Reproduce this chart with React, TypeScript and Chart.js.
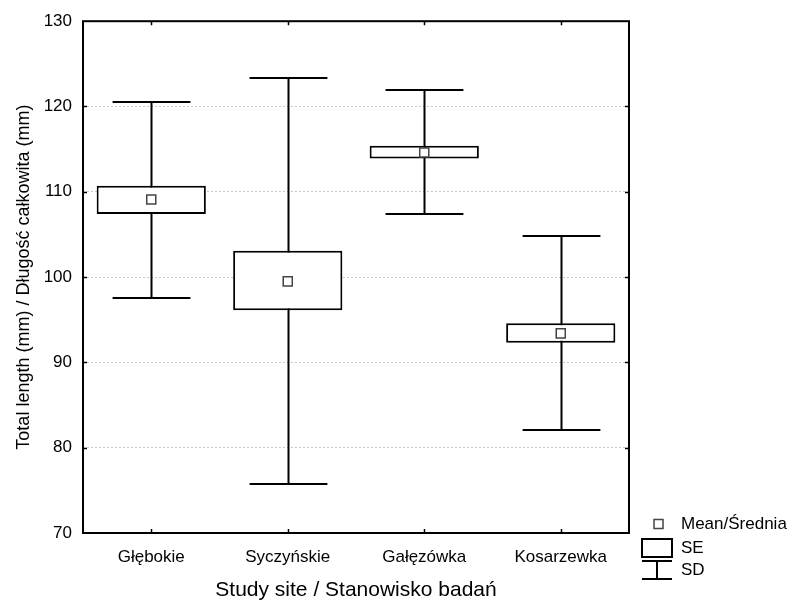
import React, { useEffect, useRef } from "react";
import { Chart, registerables } from "chart.js";

Chart.register(...registerables);

const sites = ["Głębokie", "Syczyńskie", "Gałęzówka", "Kosarzewka"];
const means = [109.1, 99.5, 114.6, 93.4];
const seLow = [107.4, 96.1, 113.9, 92.3];
const seHigh = [110.7, 103.1, 115.4, 94.6];
const sdLow = [97.5, 75.8, 107.4, 82.1];
const sdHigh = [120.5, 123.3, 121.9, 104.8];
const yMin = 70;
const yMax = 130;
const yStep = 10;
const legendLabels = ["Mean/Średnia", "SE", "SD"];
const xTitle = "Study site / Stanowisko badań";
const yTitle = "Total length (mm) / Długość całkowita (mm)";

const FONT = "'Liberation Sans', Arial, Helvetica, sans-serif";

const boxPlotPlugin = {
  id: "boxPlotExtras",
  beforeDatasetsDraw(chart: any) {
    const { ctx, scales } = chart;
    const x = scales.x;
    const y = scales.y;
    const step = x.getPixelForValue(1) - x.getPixelForValue(0);
    const half = step * 0.285;
    ctx.save();
    ctx.strokeStyle = "#000";
    ctx.lineWidth = 2;
    sites.forEach((_, i) => {
      const cx = Math.round(x.getPixelForValue(i)) + 0.5;
      const t = Math.round(y.getPixelForValue(sdHigh[i]));
      const b = Math.round(y.getPixelForValue(sdLow[i]));
      ctx.beginPath();
      ctx.moveTo(cx, t);
      ctx.lineTo(cx, b);
      ctx.moveTo(cx - half, t);
      ctx.lineTo(cx + half, t);
      ctx.moveTo(cx - half, b);
      ctx.lineTo(cx + half, b);
      ctx.stroke();
    });
    ctx.restore();
  },
  afterDraw(chart: any) {
    const { ctx, chartArea: ca, scales } = chart;
    const x = scales.x;
    const y = scales.y;
    ctx.save();
    ctx.strokeStyle = "#000";
    ctx.lineWidth = 2;
    ctx.strokeRect(ca.left, ca.top, ca.right - ca.left, ca.bottom - ca.top);
    // inward ticks
    ctx.lineWidth = 1.5;
    ctx.beginPath();
    for (let v = yMin + yStep; v < yMax; v += yStep) {
      const py = Math.round(y.getPixelForValue(v)) + 0.5;
      ctx.moveTo(ca.left, py);
      ctx.lineTo(ca.left + 4, py);
      ctx.moveTo(ca.right, py);
      ctx.lineTo(ca.right - 4, py);
    }
    sites.forEach((_, i) => {
      const px = Math.round(x.getPixelForValue(i)) + 0.5;
      ctx.moveTo(px, ca.top);
      ctx.lineTo(px, ca.top + 4);
      ctx.moveTo(px, ca.bottom);
      ctx.lineTo(px, ca.bottom - 4);
    });
    ctx.stroke();

    // legend
    const lx = ca.right + 13;
    const tx = ca.right + 52;
    ctx.font = `17px ${FONT}`;
    ctx.textBaseline = "middle";
    ctx.textAlign = "left";
    // mean marker
    ctx.fillStyle = "#fff";
    ctx.strokeStyle = "#444";
    ctx.lineWidth = 1.5;
    ctx.fillRect(lx + 12, ca.bottom - 13.5, 9, 9);
    ctx.strokeRect(lx + 12, ca.bottom - 13.5, 9, 9);
    ctx.fillStyle = "#000";
    ctx.fillText(legendLabels[0], tx, ca.bottom - 9);
    // SE box
    ctx.strokeStyle = "#000";
    ctx.lineWidth = 2;
    ctx.strokeRect(lx, ca.bottom + 6, 30, 18);
    ctx.fillText(legendLabels[1], tx, ca.bottom + 15);
    // SD whisker
    ctx.beginPath();
    ctx.moveTo(lx, ca.bottom + 28);
    ctx.lineTo(lx + 30, ca.bottom + 28);
    ctx.moveTo(lx + 15, ca.bottom + 28);
    ctx.lineTo(lx + 15, ca.bottom + 46);
    ctx.moveTo(lx, ca.bottom + 46);
    ctx.lineTo(lx + 30, ca.bottom + 46);
    ctx.stroke();
    ctx.fillText(legendLabels[2], tx, ca.bottom + 37);
    ctx.restore();
  },
};

export default function App() {
  const ref = useRef<HTMLCanvasElement | null>(null);

  useEffect(() => {
    if (!ref.current) return;
    const chart = new Chart(ref.current, {
      type: "bar",
      data: {
        labels: sites,
        datasets: [
          {
            type: "line",
            label: "Mean",
            data: means,
            showLine: false,
            pointStyle: "rect",
            pointRadius: 6.4,
            pointBackgroundColor: "#fff",
            pointBorderColor: "#444",
            pointBorderWidth: 1.5,
            order: 1,
          } as any,
          {
            type: "bar",
            label: "SE",
            data: seLow.map((lo, i) => [lo, seHigh[i]]),
            backgroundColor: "#fff",
            borderColor: "#000",
            borderWidth: 2,
            borderSkipped: false,
            barPercentage: 0.8,
            categoryPercentage: 1.0,
            order: 2,
          } as any,
        ],
      },
      options: {
        responsive: false,
        animation: false,
        layout: { padding: { top: 18.6, right: 161, left: 0, bottom: 0 } },
        plugins: {
          legend: { display: false },
          tooltip: { enabled: false },
        },
        scales: {
          x: {
            type: "category",
            offset: true,
            afterFit: (s: any) => {
              s.height = 75;
            },
            grid: { display: false, drawTicks: false },
            border: { display: false },
            ticks: {
              color: "#000",
              font: { family: FONT, size: 17 },
              padding: 14,
              maxRotation: 0,
            },
            title: {
              display: true,
              text: xTitle,
              color: "#000",
              font: { family: FONT, size: 21 },
              padding: { top: 0, bottom: 5 },
            },
          },
          y: {
            type: "linear",
            min: yMin,
            max: yMax,
            afterFit: (s: any) => {
              s.width = 83;
            },
            grid: { color: "#c8c8c8", lineWidth: 1, drawTicks: false },
            border: { display: false, dash: [2, 2] },
            ticks: {
              stepSize: yStep,
              color: "#000",
              font: { family: FONT, size: 17 },
              padding: 11,
            },
            title: {
              display: true,
              text: yTitle,
              color: "#000",
              font: { family: FONT, size: 18 },
              padding: { top: 13, bottom: 0 },
            },
          },
        },
      },
      plugins: [boxPlotPlugin],
    });
    return () => chart.destroy();
  }, []);

  return (
    <div style={{ position: "absolute", left: 0, top: 0, width: 790, height: 608, background: "#fff" }}>
      <canvas ref={ref} width={790} height={608} style={{ display: "block" }} />
    </div>
  );
}
